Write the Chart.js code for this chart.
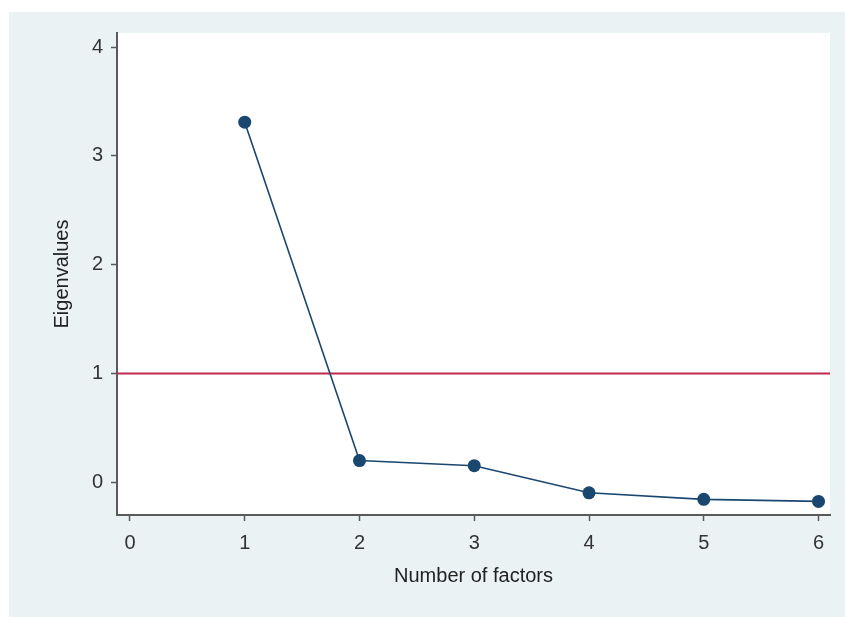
<!DOCTYPE html>
<html>
<head>
<meta charset="utf-8">
<script src="https://cdn.jsdelivr.net/npm/chart.js@4"></script>
<style>
  html, body { margin: 0; padding: 0; background: #ffffff; }
  #wrap { position: absolute; left: 9px; top: 12px; width: 836px; height: 605px; background: #eaf2f3; }
  canvas { display: block; }
</style>
</head>
<body>
<div id="wrap"><canvas id="c" width="836" height="605"></canvas></div>
<script>
const factors = [1, 2, 3, 4, 5, 6];
const eigenvalues = [3.31, 0.20, 0.153, -0.096, -0.156, -0.175];
const xTicks = [0, 1, 2, 3, 4, 5, 6];
const yTicks = [0, 1, 2, 3, 4];
const referenceLine = 1;
const xTitle = 'Number of factors';
const yTitle = 'Eigenvalues';
const xRange = [-0.113, 6.10];
const yRange = [-0.30, 4.13];

const refLinePlugin = {
  id: 'refLine',
  beforeDatasetsDraw(chart) {
    const { ctx, chartArea, scales } = chart;
    const y = scales.y.getPixelForValue(referenceLine);
    ctx.save();
    ctx.strokeStyle = '#c0284f';
    ctx.lineWidth = 2;
    ctx.beginPath();
    ctx.moveTo(chartArea.left, y);
    ctx.lineTo(chartArea.right, y);
    ctx.stroke();
    ctx.restore();
  }
};

const plotBg = {
  id: 'plotBg',
  beforeDraw(chart) {
    const { ctx, chartArea } = chart;
    ctx.save();
    ctx.fillStyle = '#ffffff';
    ctx.fillRect(chartArea.left, chartArea.top, chartArea.right - chartArea.left, chartArea.bottom - chartArea.top);
    ctx.restore();
  }
};

const font = { family: 'Liberation Sans, Arial, sans-serif', size: 20, lineHeight: 1.2 };

new Chart(document.getElementById('c'), {
  type: 'line',
  data: {
    datasets: [{
      data: factors.map((f, i) => ({ x: f, y: eigenvalues[i] })),
      borderColor: '#1a476f',
      backgroundColor: '#1a476f',
      borderWidth: 1.6,
      pointRadius: 6.5,
      pointHoverRadius: 6.5,
      pointBorderWidth: 0,
      tension: 0
    }]
  },
  options: {
    responsive: false,
    animation: false,
    events: [],
    layout: { padding: { left: 41, top: 21, right: 15, bottom: 29 } },
    plugins: { legend: { display: false }, tooltip: { enabled: false } },
    scales: {
      x: {
        type: 'linear',
        min: xRange[0], max: xRange[1],
        afterBuildTicks(scale) { scale.ticks = xTicks.map(v => ({ value: v })); },
        afterFit(scale) { scale.height = 73; },
        border: { display: true, color: '#5a5a5a', width: 2 },
        grid: { drawOnChartArea: false, drawTicks: true, tickLength: 6, tickColor: '#5a5a5a', tickWidth: 1.5 },
        ticks: { color: '#333333', font: font, padding: 10, maxRotation: 0 },
        title: { display: true, text: xTitle, color: '#222222', font: font, padding: 0 }
      },
      y: {
        type: 'linear',
        min: yRange[0], max: yRange[1],
        afterBuildTicks(scale) { scale.ticks = yTicks.map(v => ({ value: v })); },
        afterFit(scale) { scale.width = 67; },
        border: { display: true, color: '#5a5a5a', width: 2 },
        grid: { drawOnChartArea: false, drawTicks: true, tickLength: 6, tickColor: '#5a5a5a', tickWidth: 1.5 },
        ticks: { color: '#333333', font: font, padding: 8 },
        title: { display: true, text: yTitle, color: '#222222', font: font, padding: 0 }
      }
    }
  },
  plugins: [plotBg, refLinePlugin]
});
</script>
</body>
</html>
